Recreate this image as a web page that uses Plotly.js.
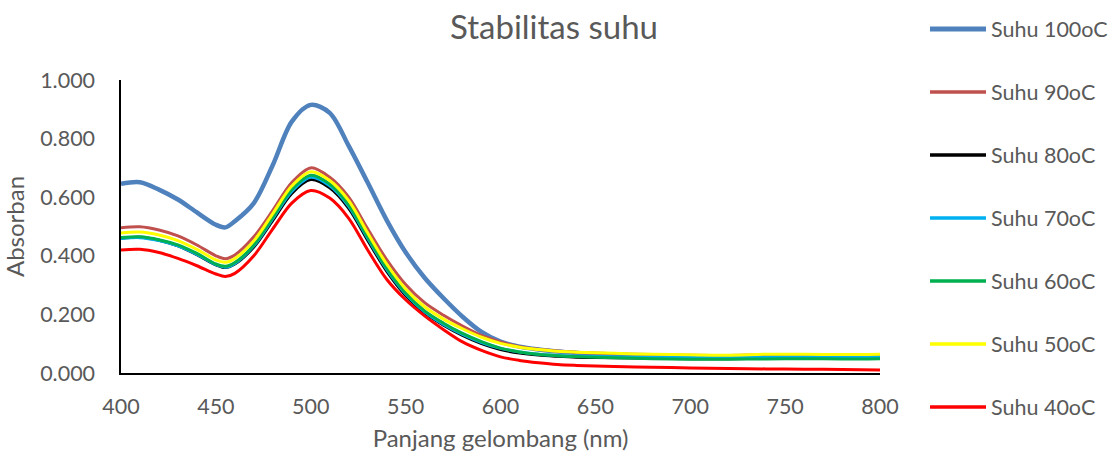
<!DOCTYPE html>
<html>
<head>
<meta charset="utf-8">
<script src="https://cdn.plot.ly/plotly-3.0.1.min.js"></script>
<style>html,body{margin:0;padding:0;background:#fff;}#chart{width:1108px;height:456px;}</style>
</head>
<body>
<div id="chart"></div>
<script>
const wavelength = [400,410,420,430,440,450,455,460,470,480,490,500,510,520,530,540,550,560,570,580,590,600,610,620,630,640,650,660,680,700,720,740,760,780,800];

const suhu100 = [0.646,0.651,0.626,0.592,0.548,0.506,0.497,0.518,0.580,0.710,0.858,0.915,0.888,0.775,0.650,0.522,0.412,0.325,0.255,0.192,0.140,0.107,0.090,0.080,0.073,0.068,0.064,0.062,0.058,0.056,0.055,0.056,0.057,0.056,0.056];
const suhu90  = [0.496,0.499,0.488,0.468,0.437,0.400,0.390,0.403,0.465,0.555,0.650,0.700,0.668,0.600,0.492,0.387,0.302,0.240,0.197,0.160,0.128,0.106,0.090,0.081,0.075,0.071,0.068,0.066,0.063,0.061,0.060,0.062,0.062,0.061,0.062];
const suhu80  = [0.460,0.463,0.453,0.434,0.404,0.369,0.360,0.372,0.430,0.521,0.613,0.660,0.632,0.562,0.453,0.348,0.265,0.205,0.163,0.128,0.100,0.080,0.068,0.061,0.057,0.054,0.053,0.052,0.050,0.049,0.049,0.050,0.051,0.050,0.050];
const suhu70  = [0.459,0.462,0.452,0.434,0.405,0.370,0.361,0.374,0.434,0.527,0.620,0.668,0.639,0.569,0.460,0.354,0.270,0.209,0.166,0.132,0.104,0.084,0.072,0.064,0.060,0.057,0.056,0.055,0.054,0.053,0.053,0.054,0.055,0.054,0.055];
const suhu60  = [0.462,0.465,0.455,0.437,0.408,0.372,0.364,0.377,0.437,0.531,0.626,0.675,0.645,0.574,0.464,0.358,0.273,0.212,0.170,0.135,0.107,0.085,0.072,0.064,0.059,0.056,0.054,0.052,0.049,0.047,0.047,0.048,0.049,0.048,0.049];
const suhu50  = [0.478,0.481,0.471,0.452,0.422,0.386,0.378,0.391,0.451,0.544,0.638,0.687,0.657,0.588,0.478,0.372,0.287,0.226,0.184,0.151,0.122,0.101,0.088,0.080,0.074,0.071,0.069,0.067,0.064,0.062,0.061,0.064,0.064,0.063,0.064];
const suhu40  = [0.420,0.422,0.411,0.391,0.366,0.338,0.329,0.340,0.400,0.492,0.580,0.623,0.597,0.528,0.420,0.320,0.250,0.195,0.148,0.106,0.077,0.055,0.043,0.035,0.029,0.026,0.024,0.022,0.020,0.017,0.015,0.014,0.013,0.012,0.010];

const seriesNames = ["Suhu 100oC","Suhu 90oC","Suhu 80oC","Suhu 70oC","Suhu 60oC","Suhu 50oC","Suhu 40oC"];
const seriesValues = [suhu100,suhu90,suhu80,suhu70,suhu60,suhu50,suhu40];
const seriesColors = ["#4F81BD","#C0504D","#000000","#00B0F0","#00B050","#FFFF00","#FF0000"];
const seriesWidths = [4.5,3,3,3,3,3,3];

const yTickVals = [0,0.2,0.4,0.6,0.8,1.0];
const yTickText = ["0.000","0.200","0.400","0.600","0.800","1.000"];
const xTickVals = [400,450,500,550,600,650,700,750,800];

const FONT = "Lato, 'Noto Sans', sans-serif";
const GREY = "#595959";

const W = 1108, H = 456;
const M = {l:121, r:228, t:80, b:83};
const plotW = W - M.l - M.r, plotH = H - M.t - M.b;
const px2x = px => (px - M.l) / plotW;
const py2y = py => (H - M.b - py) / plotH;

const traces = seriesNames.map((name,i)=>({
  type:"scatter", mode:"lines", name:name,
  x: wavelength, y: seriesValues[i],
  line:{color:seriesColors[i], width:seriesWidths[i], shape:"spline", smoothing:0.9},
  showlegend:false
}));

// custom legend (long line samples, like the original)
const legTop = 29, legStep = 63, legX0 = 930, legX1 = 986, legTextX = 989;
const shapes = seriesNames.map((n,i)=>({
  type:"line", xref:"paper", yref:"paper",
  x0:px2x(legX0), x1:px2x(legX1), y0:py2y(legTop+i*legStep), y1:py2y(legTop+i*legStep),
  line:{color:seriesColors[i], width:i===0?5:3.5}
}));
const annotations = seriesNames.map((n,i)=>({
  text:n, xref:"paper", yref:"paper", x:px2x(legTextX), y:py2y(legTop+i*legStep),
  xanchor:"left", yanchor:"middle", showarrow:false,
  font:{family:FONT, size:21.5, color:GREY}
}));

const layout = {
  width:W, height:H,
  margin:M,
  paper_bgcolor:"#fff", plot_bgcolor:"#fff",
  title:{text:"Stabilitas suhu", x:0.5, xref:"container", xanchor:"center", y:1-27/H, yref:"container", yanchor:"middle",
         font:{family:FONT, size:33, color:GREY}},
  xaxis:{range:[400,800], tickvals:xTickVals, ticks:"", showgrid:false, zeroline:false,
         showline:true, linecolor:"#000", linewidth:1.6, ticklabelstandoff:14,
         tickfont:{family:FONT, size:21.5, color:GREY},
         title:{text:"Panjang gelombang (nm)", font:{family:FONT, size:24, color:GREY}, standoff:12}},
  yaxis:{range:[0,1], tickvals:yTickVals, ticktext:yTickText, ticks:"", showgrid:false, zeroline:false,
         showline:true, linecolor:"#000", linewidth:1.6, ticklabelstandoff:20,
         tickfont:{family:FONT, size:21.5, color:GREY},
         title:{text:"Absorban", font:{family:FONT, size:24, color:GREY}, standoff:12}},
  showlegend:false,
  shapes:shapes,
  annotations:annotations
};

Plotly.newPlot("chart", traces, layout, {displayModeBar:false, staticPlot:true});
</script>
</body>
</html>
